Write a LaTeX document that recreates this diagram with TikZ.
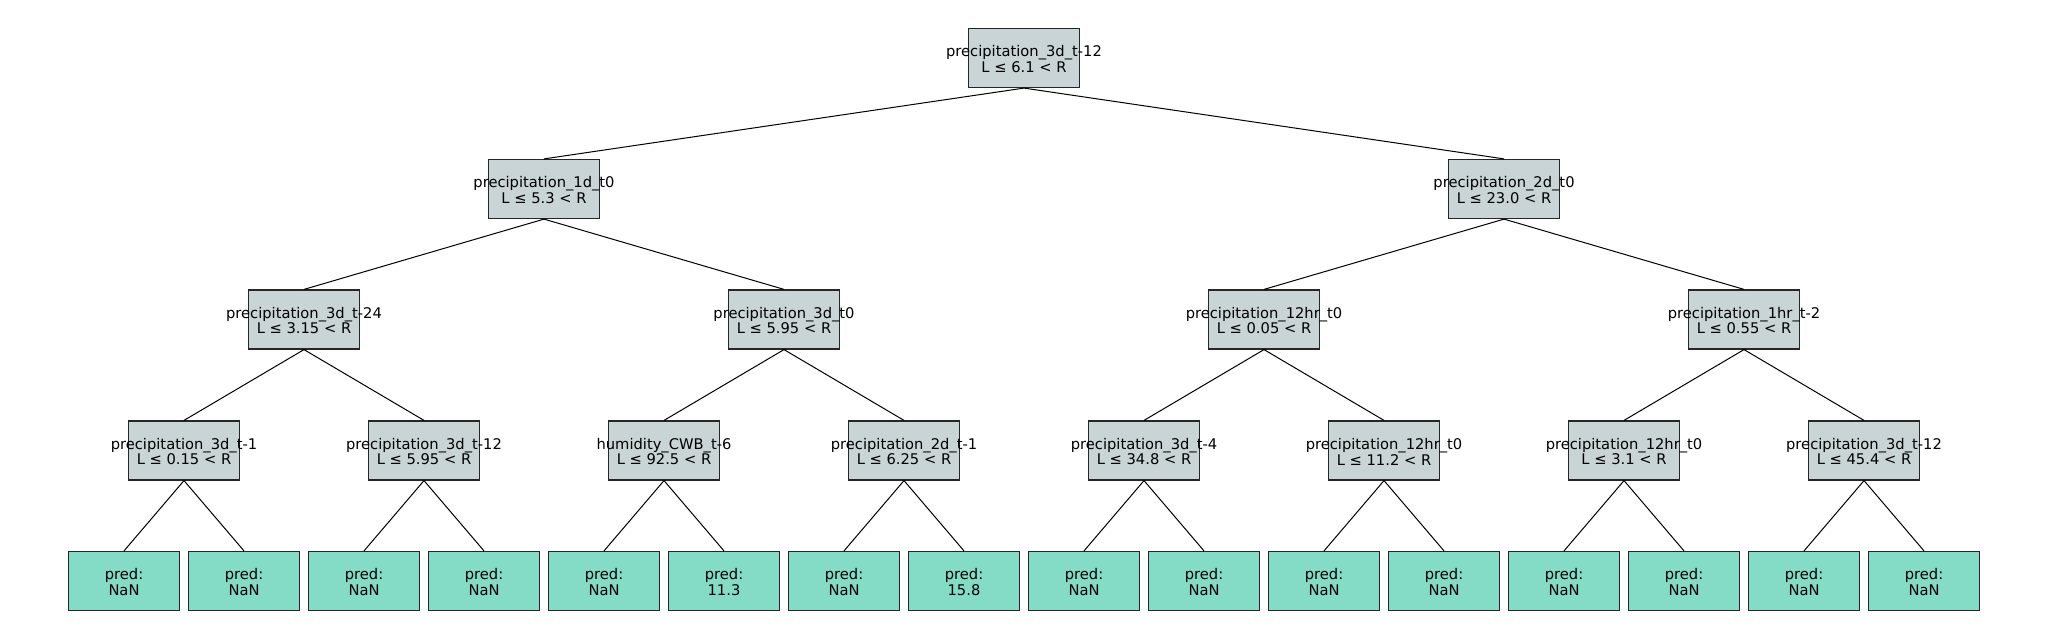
\documentclass[tikz,border=0pt]{standalone}
\usepackage{fontspec}
\setmainfont{DejaVu Sans}
\usepackage{tikz}

\definecolor{splitgray}{HTML}{C8D4D5}
\definecolor{leafteal}{HTML}{85DCC6}

% two centred lines that may run past the box
\newcommand{\boxtext}[2]{\makebox[0pt]{\rule{0pt}{6.8pt}#1}\\\makebox[0pt]{#2}}

\begin{document}
\begin{tikzpicture}[
        x=0.5pt,
        y=-0.5pt,
        split/.style={
            rectangle,
            draw=black!85,
            line width=0.6pt,
            fill=splitgray,
            align=center,
            inner sep=0pt,
            minimum width=55.3pt,
            minimum height=29.5pt,
            font=\fontsize{7.35}{7.75}\selectfont
        },
        leaf/.style={
            split,
            fill=leafteal
        },
        line/.style={
            draw,
            line width=0.5pt
        },
      ]
        \useasboundingbox (0,0) rectangle (2048,640);
        \node [split] (root) at (1024,58) {\boxtext{precipitation\_3d\_t-12}{L ≤ 6.1 < R}};
        \node [split] (l) at (544,189) {\boxtext{precipitation\_1d\_t0}{L ≤ 5.3 < R}};
        \node [split] (r) at (1504,189) {\boxtext{precipitation\_2d\_t0}{L ≤ 23.0 < R}};
        \node [split] (ll) at (304,319.5) {\boxtext{precipitation\_3d\_t-24}{L ≤ 3.15 < R}};
        \node [split] (lr) at (784,319.5) {\boxtext{precipitation\_3d\_t0}{L ≤ 5.95 < R}};
        \node [split] (rl) at (1264,319.5) {\boxtext{precipitation\_12hr\_t0}{L ≤ 0.05 < R}};
        \node [split] (rr) at (1744,319.5) {\boxtext{precipitation\_1hr\_t-2}{L ≤ 0.55 < R}};
        \node [split] (lll) at (184,450.5) {\boxtext{precipitation\_3d\_t-1}{L ≤ 0.15 < R}};
        \node [split] (llr) at (424,450.5) {\boxtext{precipitation\_3d\_t-12}{L ≤ 5.95 < R}};
        \node [split] (lrl) at (664,450.5) {\boxtext{humidity\_CWB\_t-6}{L ≤ 92.5 < R}};
        \node [split] (lrr) at (904,450.5) {\boxtext{precipitation\_2d\_t-1}{L ≤ 6.25 < R}};
        \node [split] (rll) at (1144,450.5) {\boxtext{precipitation\_3d\_t-4}{L ≤ 34.8 < R}};
        \node [split] (rlr) at (1384,450.5) {\boxtext{precipitation\_12hr\_t0}{L ≤ 11.2 < R}};
        \node [split] (rrl) at (1624,450.5) {\boxtext{precipitation\_12hr\_t0}{L ≤ 3.1 < R}};
        \node [split] (rrr) at (1864,450.5) {\boxtext{precipitation\_3d\_t-12}{L ≤ 45.4 < R}};
        \node [leaf] (llll) at (124,581) {\boxtext{pred:}{NaN}};
        \node [leaf] (lllr) at (244,581) {\boxtext{pred:}{NaN}};
        \node [leaf] (llrl) at (364,581) {\boxtext{pred:}{NaN}};
        \node [leaf] (llrr) at (484,581) {\boxtext{pred:}{NaN}};
        \node [leaf] (lrll) at (604,581) {\boxtext{pred:}{NaN}};
        \node [leaf] (lrlr) at (724,581) {\boxtext{pred:}{11.3}};
        \node [leaf] (lrrl) at (844,581) {\boxtext{pred:}{NaN}};
        \node [leaf] (lrrr) at (964,581) {\boxtext{pred:}{15.8}};
        \node [leaf] (rlll) at (1084,581) {\boxtext{pred:}{NaN}};
        \node [leaf] (rllr) at (1204,581) {\boxtext{pred:}{NaN}};
        \node [leaf] (rlrl) at (1324,581) {\boxtext{pred:}{NaN}};
        \node [leaf] (rlrr) at (1444,581) {\boxtext{pred:}{NaN}};
        \node [leaf] (rrll) at (1564,581) {\boxtext{pred:}{NaN}};
        \node [leaf] (rrlr) at (1684,581) {\boxtext{pred:}{NaN}};
        \node [leaf] (rrrl) at (1804,581) {\boxtext{pred:}{NaN}};
        \node [leaf] (rrrr) at (1924,581) {\boxtext{pred:}{NaN}};
        \path [line] (root.south) -- (l.north);
        \path [line] (root.south) -- (r.north);
        \path [line] (l.south) -- (ll.north);
        \path [line] (l.south) -- (lr.north);
        \path [line] (r.south) -- (rl.north);
        \path [line] (r.south) -- (rr.north);
        \path [line] (ll.south) -- (lll.north);
        \path [line] (ll.south) -- (llr.north);
        \path [line] (lr.south) -- (lrl.north);
        \path [line] (lr.south) -- (lrr.north);
        \path [line] (rl.south) -- (rll.north);
        \path [line] (rl.south) -- (rlr.north);
        \path [line] (rr.south) -- (rrl.north);
        \path [line] (rr.south) -- (rrr.north);
        \path [line] (lll.south) -- (llll.north);
        \path [line] (lll.south) -- (lllr.north);
        \path [line] (llr.south) -- (llrl.north);
        \path [line] (llr.south) -- (llrr.north);
        \path [line] (lrl.south) -- (lrll.north);
        \path [line] (lrl.south) -- (lrlr.north);
        \path [line] (lrr.south) -- (lrrl.north);
        \path [line] (lrr.south) -- (lrrr.north);
        \path [line] (rll.south) -- (rlll.north);
        \path [line] (rll.south) -- (rllr.north);
        \path [line] (rlr.south) -- (rlrl.north);
        \path [line] (rlr.south) -- (rlrr.north);
        \path [line] (rrl.south) -- (rrll.north);
        \path [line] (rrl.south) -- (rrlr.north);
        \path [line] (rrr.south) -- (rrrl.north);
        \path [line] (rrr.south) -- (rrrr.north);
      \end{tikzpicture}
\end{document}
